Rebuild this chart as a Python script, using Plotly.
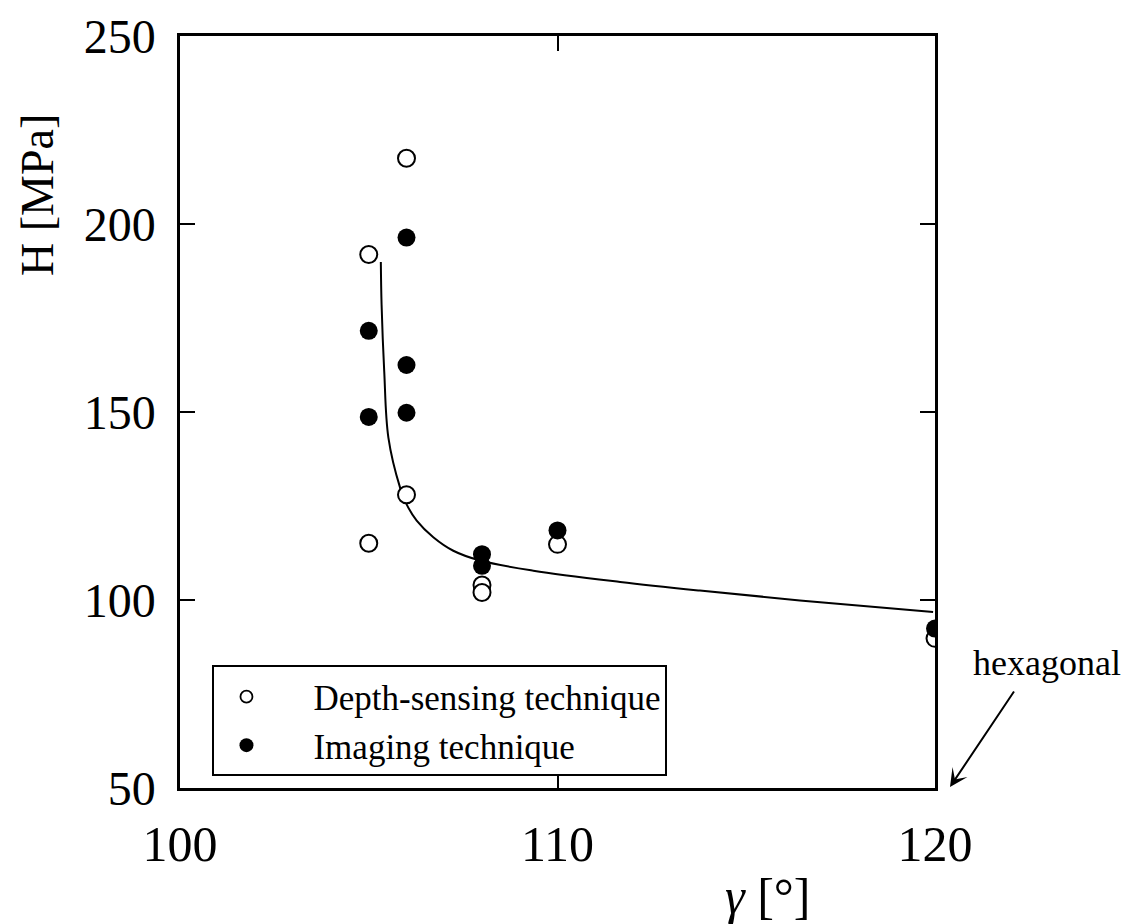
import plotly.graph_objects as go

# Data
depth_x = [106, 105, 106, 105, 108, 108, 110, 120]
depth_y = [217.5, 191.9, 128.0, 115.1, 104.0, 102.0, 114.8, 89.8]

imaging_x = [106, 105, 106, 105, 106, 108, 108, 110, 120]
imaging_y = [196.4, 171.6, 162.5, 148.7, 149.8, 112.2, 109.1, 118.5, 92.4]

fit_x = [105.32, 105.34, 105.41, 105.52, 105.83, 106.0, 106.27, 106.71, 107.24,
         107.95, 109.36, 111.66, 113.77, 116.42, 119.95]
fit_y = [189.9, 178.5, 160.8, 143.2, 129.9, 125.5, 121.1, 116.7, 113.1,
         110.5, 107.8, 104.8, 102.5, 99.9, 96.8]

x_ticks = [100, 110, 120]
y_ticks = [50, 100, 150, 200, 250]

FONT = "Liberation Serif, Times New Roman, serif"

fig = go.Figure()

fig.add_trace(go.Scatter(x=fit_x, y=fit_y, mode="lines", line=dict(color="black", width=2, shape="spline"),
                         showlegend=False, hoverinfo="skip"))
fig.add_trace(go.Scatter(x=depth_x, y=depth_y, mode="markers",
                         marker=dict(symbol="circle", size=17, color="white", line=dict(color="black", width=2)),
                         showlegend=False))
fig.add_trace(go.Scatter(x=imaging_x, y=imaging_y, mode="markers",
                         marker=dict(symbol="circle", size=18, color="black", line=dict(color="black", width=0)),
                         showlegend=False))
# legend entries (smaller symbols as in the reference legend)
fig.add_trace(go.Scatter(x=[None], y=[None], mode="markers",
                         name="\u00a0\u00a0\u00a0\u00a0Depth-sensing technique",
                         marker=dict(symbol="circle", size=12, color="white", line=dict(color="black", width=1.8))))
fig.add_trace(go.Scatter(x=[None], y=[None], mode="markers",
                         name="\u00a0\u00a0\u00a0\u00a0Imaging technique",
                         marker=dict(symbol="circle", size=14, color="black")))

fig.update_layout(
    width=1132, height=924,
    margin=dict(l=172, r=205, t=28, b=144, autoexpand=False),
    paper_bgcolor="white", plot_bgcolor="white",
    font=dict(family=FONT, color="black", size=48),
    legend=dict(x=0.043, y=0.163, xanchor="left", yanchor="top",
                bordercolor="black", borderwidth=2, bgcolor="white",
                font=dict(family=FONT, size=35, color="black"),
                itemwidth=54, tracegroupgap=0),
    showlegend=True,
)

fig.update_xaxes(range=[100, 120], tickvals=x_ticks, ticktext=[str(v) for v in x_ticks],
                 showline=True, linecolor="black", linewidth=2.5, mirror="ticks",
                 ticks="inside", ticklen=15, tickwidth=2, tickcolor="black",
                 showgrid=False, zeroline=False, ticklabelstandoff=10,
                 ticklabeloverflow="allow", automargin=False,
                 tickfont=dict(family=FONT, size=50))
fig.update_yaxes(range=[50, 250], tickvals=y_ticks, ticktext=[str(v) for v in y_ticks],
                 showline=True, linecolor="black", linewidth=2.5, mirror="ticks",
                 ticks="inside", ticklen=15, tickwidth=2, tickcolor="black",
                 showgrid=False, zeroline=False, ticklabelstandoff=12,
                 ticklabeloverflow="allow", automargin=False,
                 tickfont=dict(family=FONT, size=48))

# axis titles
fig.add_annotation(text="<i>γ</i> [°]", xref="paper", yref="paper", x=(766 - 180) / 752, y=-(896 - 788) / 752,
                   showarrow=False, font=dict(family=FONT, size=50), xanchor="center", yanchor="middle")
fig.add_annotation(text="H [MPa]", xref="paper", yref="paper", x=-(180 - 37) / 755, y=(788 - 195) / 752,
                   showarrow=False, textangle=-90, font=dict(family=FONT, size=46), xanchor="center", yanchor="middle")

# hexagonal annotation with arrow
fig.add_annotation(text="hexagonal", xref="paper", yref="paper", x=(1047 - 180) / 755, y=(788 - 663) / 752,
                   showarrow=False, font=dict(family=FONT, size=36), xanchor="center", yanchor="middle")
fig.add_annotation(xref="paper", yref="paper", x=(950 - 180) / 755, y=(788 - 787) / 752,
                   ax=65, ay=-97, axref="pixel", ayref="pixel",
                   text="", showarrow=True, arrowhead=3, arrowsize=1.5, arrowwidth=2, arrowcolor="black")

fig.write_html("out.html")
